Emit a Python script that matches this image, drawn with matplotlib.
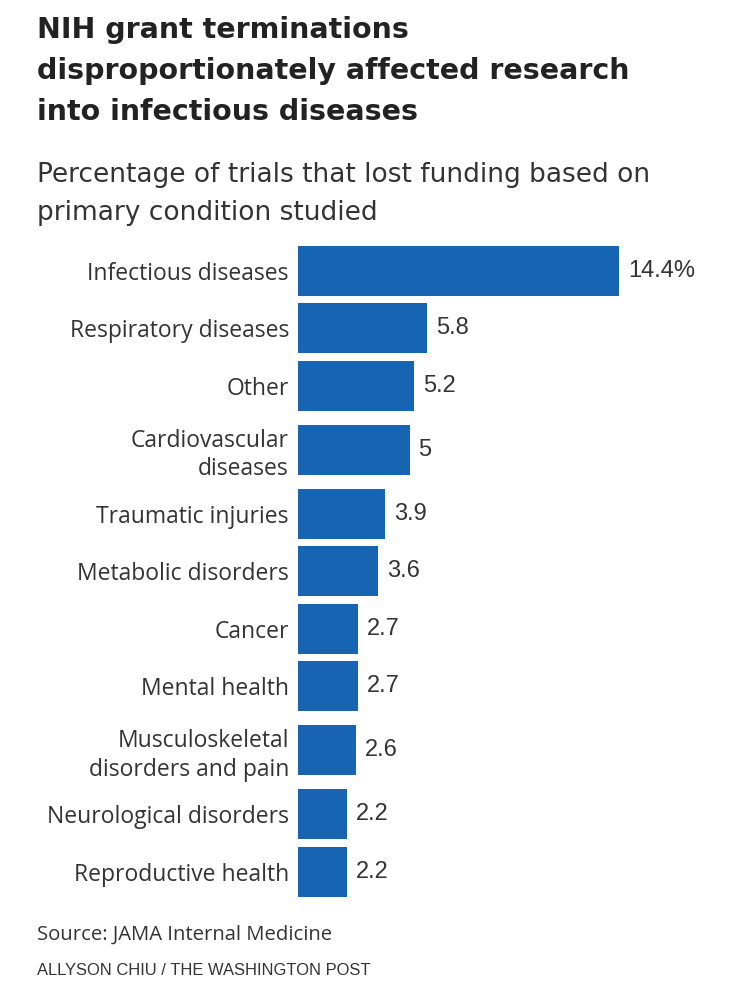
import numpy as np
import matplotlib.pyplot as plt

# Data
conditions = ['Infectious diseases', 'Respiratory diseases', 'Other',
              'Cardiovascular\ndiseases', 'Traumatic injuries', 'Metabolic disorders',
              'Cancer', 'Mental health', 'Musculoskeletal\ndisorders and pain',
              'Neurological disorders', 'Reproductive health']
pct = [14.4, 5.8, 5.2, 5, 3.9, 3.6, 2.7, 2.7, 2.6, 2.2, 2.2]
value_labels = ['14.4%', '5.8', '5.2', '5', '3.9', '3.6', '2.7', '2.7', '2.6', '2.2', '2.2']

title_lines = ['NIH grant terminations',
               'disproportionately affected research',
               'into infectious diseases']
subtitle_lines = ['Percentage of trials that lost funding based on',
                  'primary condition studied']
source = 'Source: JAMA Internal Medicine'
credit = 'ALLYSON CHIU / THE WASHINGTON POST'

blue = '#1764b2'
W, H = 733, 1000

fig = plt.figure(figsize=(W / 100, H / 100), dpi=100)
fig.patch.set_facecolor('white')

# row centres: plain pitch, two-line labels get a bit more room each side
pitch, extra = 57.5, 6.5
lines = [c.count('\n') + 1 for c in conditions]
centers = [270.5]
for i in range(1, len(conditions)):
    step = pitch + extra * ((lines[i - 1] > 1) + (lines[i] > 1))
    centers.append(centers[-1] + step)

top, bottom = 240, 900
ax = fig.add_axes([298 / W, 1 - bottom / H, 357 / W, (bottom - top) / H])
ax.barh(centers, pct, height=50, color=blue, edgecolor='none')
ax.set_xlim(0, 16)
ax.set_ylim(bottom, top)
ax.set_yticks(centers, conditions, fontsize=16.5, color='#333333',
              family=['Open Sans', 'DejaVu Sans'], linespacing=1.25)
ax.tick_params(axis='y', length=0, pad=6.5)
ax.set_xticks([])
for s in ax.spines.values():
    s.set_visible(False)

for y, v, lab in zip(centers, pct, value_labels):
    ax.annotate(lab, (v, y), xytext=(6.5, 0), textcoords='offset points',
                ha='left', va='center', fontsize=17, color='#333333',
                family=['Liberation Sans', 'DejaVu Sans'])

for line, base in zip(title_lines, [38, 79, 120]):
    fig.text(37 / W, 1 - base / H, line, ha='left', va='baseline', fontsize=20.5,
             fontweight='bold', color='#222222', family=['DejaVu Sans'])
for line, base in zip(subtitle_lines, [182, 220]):
    fig.text(37 / W, 1 - base / H, line, ha='left', va='baseline', fontsize=19,
             color='#333333', family=['DejaVu Sans'])
fig.text(37 / W, 1 - 940 / H, source, ha='left', va='baseline', fontsize=14.6,
         color='#333333', family=['Open Sans', 'DejaVu Sans'])
fig.text(37 / W, 1 - 975 / H, credit, ha='left', va='baseline', fontsize=11.85,
         color='#333333', family=['Liberation Sans', 'DejaVu Sans'])

fig.savefig('out.png', dpi=100, facecolor='white')
